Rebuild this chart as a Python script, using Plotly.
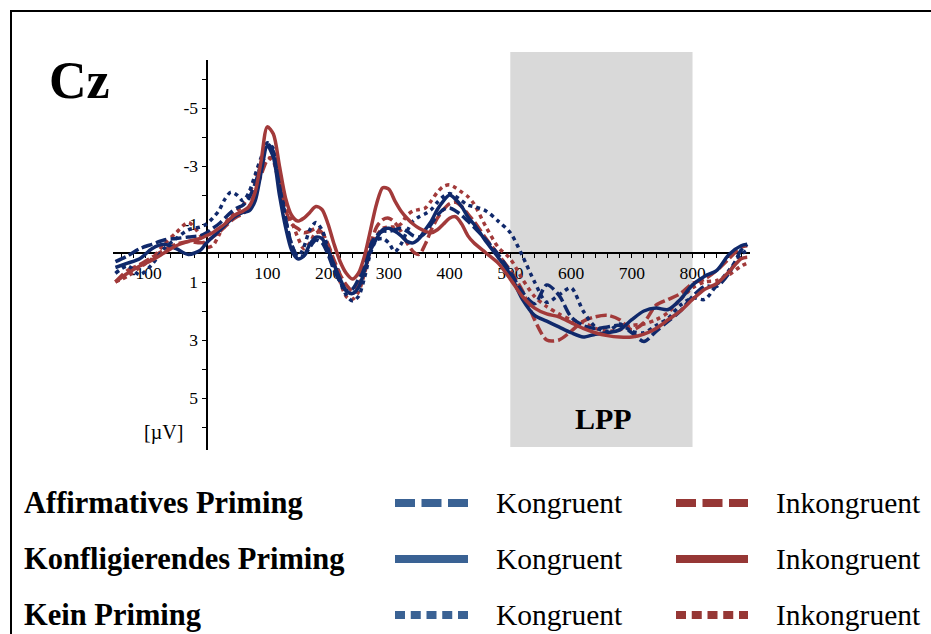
import plotly.graph_objects as go

# ---------------- data ----------------
time_ms = [-150, -130, -110, -90, -70, -50, -30, -10,
           0, 10, 20, 30, 40, 50, 60, 70, 80, 90,
           100, 110, 120, 130, 140, 150, 160, 170, 180, 190,
           200, 210, 220, 230, 240, 250, 260, 270, 280, 290,
           300, 310, 320, 330, 340, 350, 360, 370, 380, 390,
           400, 410, 420, 430, 440,
           460, 480, 500, 520, 540, 560, 580, 600, 620, 640, 660, 680, 700,
           720, 740, 760, 780, 800, 820, 840, 860, 880, 890]

# Affirmatives Priming
aff_kongruent = [0.3, 0.1, -0.15, -0.3, -0.45, -0.5, -0.55, -0.6,
                 -0.7, -0.85, -1.0, -1.2, -1.4, -1.55, -1.65, -1.9, -2.4, -3.1,
                 -3.75, -3.5, -2.4, -1.2, -0.3, 0.1, 0.1, -0.2, -0.45, -0.35,
                 0.05, 0.6, 1.0, 1.3, 1.25, 0.9, 0.3, -0.3, -0.6, -0.75,
                 -0.75, -0.8, -0.85, -0.75, -0.6, -0.55, -0.7, -1.0, -1.3, -1.5,
                 -1.55, -1.45, -1.3, -1.1, -0.9,
                 -0.45, 0.05, 0.65, 1.35, 1.75, 1.1, 1.45, 2.2, 2.5, 2.6, 2.55, 2.5, 2.75,
                 3.05, 2.7, 2.35, 2.0, 1.5, 1.15, 1.15, 0.7, -0.1, -0.3]
aff_inkongruent = [1.0, 0.6, 0.4, 0.15, -0.1, -0.3, -0.4, -0.35,
                   -0.4, -0.55, -0.7, -0.9, -1.1, -1.25, -1.35, -1.6, -2.1, -2.7,
                   -3.2, -3.3, -2.5, -1.5, -1.0, -0.85, -0.7, -0.75, -0.85, -0.7,
                   -0.3, 0.25, 0.75, 1.1, 1.3, 1.1, 0.5, -0.3, -0.9, -1.15,
                   -1.2, -1.05, -0.75, -0.35, -0.05, 0.05, -0.3, -0.8, -1.2, -1.5,
                   -1.7, -1.75, -1.6, -1.35, -1.1,
                   -0.5, 0.05, 0.6, 1.3, 2.3, 3.0, 3.0, 2.7, 2.35, 2.2, 2.15, 2.3, 2.65,
                   2.4, 1.8, 1.6, 1.4, 1.05, 0.9, 0.6, 0.2, -0.2, -0.25]

# Konfligierendes Priming
konf_kongruent = [0.5, 0.35, 0.2, -0.15, -0.3, -0.15, 0.05, -0.1,
                  -0.35, -0.55, -0.75, -0.95, -1.15, -1.3, -1.4, -1.45, -1.8, -2.8,
                  -3.7, -3.3, -2.0, -0.9, -0.1, 0.2, 0.1, -0.3, -0.55, -0.5,
                  -0.1, 0.4, 0.9, 1.3, 1.4, 1.2, 0.6, -0.1, -0.5, -0.8,
                  -0.85, -0.75, -0.6, -0.4, -0.35, -0.5, -0.8, -1.1, -1.5, -1.8,
                  -2.0, -1.85, -1.6, -1.25, -1.0,
                  -0.4, 0.15, 0.75, 1.6, 2.15, 2.35, 2.55, 2.75, 2.9, 2.8, 2.75, 2.65, 2.3,
                  2.0, 1.9, 1.95, 1.6, 1.1, 0.8, 0.6, 0.05, -0.25, -0.3]
konf_inkongruent = [1.0, 0.7, 0.45, 0.25, 0.0, -0.25, -0.4, -0.5,
                    -0.6, -0.7, -0.85, -1.0, -1.2, -1.35, -1.45, -1.6, -2.1, -3.2,
                    -4.35, -4.1, -3.0, -1.9, -1.3, -1.1, -1.2, -1.4, -1.6, -1.5,
                    -1.0, -0.3, 0.3, 0.7, 0.9, 0.7, 0.1, -0.8, -1.7, -2.25,
                    -2.2, -1.8, -1.45, -1.2, -1.0, -0.85, -0.75, -0.7, -0.8, -1.0,
                    -1.2, -1.25, -1.0, -0.6, -0.35,
                    0.0, 0.35, 0.9, 1.5, 1.9, 2.1, 2.2, 2.4, 2.6, 2.75, 2.85, 2.9, 2.9,
                    2.8, 2.6, 2.3, 2.0, 1.6, 1.25, 1.05, 0.65, 0.2, 0.15]

# Kein Priming
kein_kongruent = [0.7, 0.45, 0.75, 0.4, -0.15, -0.5, -0.8, -0.9,
                  -1.0, -1.2, -1.45, -1.85, -2.1, -2.0, -1.8, -2.1, -2.7, -3.3,
                  -3.8, -3.6, -2.6, -1.2, -0.3, 0.15, -0.2, -0.8, -1.05, -0.8,
                  -0.15, 0.5, 1.0, 1.45, 1.65, 1.5, 0.85, 0.0, -0.45, -0.5,
                  -0.35, -0.05, -0.3, -0.75, -1.1, -1.25, -1.35, -1.5, -1.75, -1.95,
                  -2.05, -1.95, -1.8, -1.65, -1.6,
                  -1.45, -1.1, -0.7, 0.1, 1.0, 1.7, 1.45, 1.2, 2.0, 2.55, 2.7, 2.45, 2.7,
                  2.75, 2.5, 2.25, 1.8, 1.55, 1.6, 1.1, 0.6, 0.05, -0.1]
kein_inkongruent = [1.0, 0.8, 0.5, 0.2, -0.3, -0.7, -1.05, -0.6,
                    -0.2, -0.25, -0.6, -1.0, -1.25, -1.45, -1.65, -2.0, -2.6, -3.15,
                    -3.3, -3.15, -2.3, -1.7, -1.1, -0.55, -0.15, -0.35, -0.7, -0.7,
                    -0.25, 0.35, 1.0, 1.5, 1.6, 1.35, 0.7, -0.1, -0.6, -0.85,
                    -0.9, -0.9, -1.0, -1.3, -1.45, -1.5, -1.55, -1.8, -2.1, -2.3,
                    -2.35, -2.25, -2.1, -1.95, -1.7,
                    -0.9, -0.2, 0.2, 0.9, 1.5, 1.85, 2.1, 2.3, 2.4, 2.6, 2.7, 2.65, 2.5,
                    2.45, 2.3, 2.05, 1.6, 1.2, 1.0, 0.95, 0.75, 0.45, 0.35]

x_tick_vals = [-100, 100, 200, 300, 400, 500, 600, 700, 800]
x_tick_text = ["-100", "100", "200", "300", "400", "500", "600", "700", "800"]
y_tick_vals = [-5, -3, -1, 1, 3, 5]
y_tick_text = ["-5", "-3", "-1", "1", "3", "5"]
lpp_window = [500, 800]

row_labels = ["Affirmatives Priming", "Konfligierendes Priming", "Kein Priming"]
cond_labels = ["Kongruent", "Inkongruent"]

# ---------------- styling / layout ----------------
W, H = 931, 634
L, R, T, B = 113, 750, 60, 450
PW, PH = R - L, B - T
X_RANGE = [-154.0, 894.6]
Y_RANGE = [6.793, -6.655]   # reversed: negative up

BLUE = "#10296b"
RED = "#a23a3a"
LEG_BLUE = "#3a6294"
LEG_RED = "#963735"
SERIF = "Liberation Serif, Times New Roman, serif"

DASH = "11px,4px"
DOT = "4px,4px"


def px(xp, yp):
    """pixel -> paper coordinates"""
    return (xp - L) / PW, 1 - (yp - T) / PH


fig = go.Figure()

series = [
    (aff_inkongruent, RED, DASH, "Affirmatives Priming – Inkongruent"),
    (kein_inkongruent, RED, DOT, "Kein Priming – Inkongruent"),
    (aff_kongruent, BLUE, DASH, "Affirmatives Priming – Kongruent"),
    (kein_kongruent, BLUE, DOT, "Kein Priming – Kongruent"),
    (konf_kongruent, BLUE, "solid", "Konfligierendes Priming – Kongruent"),
    (konf_inkongruent, RED, "solid", "Konfligierendes Priming – Inkongruent"),
]
for vals, col, dash, name in series:
    fig.add_trace(go.Scatter(
        x=time_ms, y=vals, mode="lines", name=name,
        line=dict(color=col, width=3.5, dash=dash, shape="spline", smoothing=0.8),
        showlegend=False, hoverinfo="skip"))

yzero_frac = (0 - Y_RANGE[0]) / (Y_RANGE[1] - Y_RANGE[0])
xzero_frac = (0 - X_RANGE[0]) / (X_RANGE[1] - X_RANGE[0])

shapes = []
# LPP window (gray)
gx0 = (lpp_window[0] - X_RANGE[0]) / (X_RANGE[1] - X_RANGE[0])
gx1 = (lpp_window[1] - X_RANGE[0]) / (X_RANGE[1] - X_RANGE[0])
_, gy1 = px(0, 52)
_, gy0 = px(0, 447)
shapes.append(dict(type="rect", xref="paper", yref="paper", x0=gx0, x1=gx1,
                   y0=gy0, y1=gy1, fillcolor="#d9d9d9", line=dict(width=0),
                   layer="below"))
# outer frame
fx0, fy0 = px(11, 11)
fx1, fy1 = px(1000, 700)
shapes.append(dict(type="rect", xref="paper", yref="paper", x0=fx0, x1=fx1,
                   y0=fy1, y1=fy0, line=dict(color="black", width=2),
                   fillcolor="rgba(0,0,0,0)"))

# legend samples
row_y = [503, 559, 615]
dashes_leg = ["20px,6.5px", "solid", "10px,5.75px"]
for ry, dsh in zip(row_y, dashes_leg):
    for (x0, x1, col) in [(395, 468, LEG_BLUE), (676, 748, LEG_RED)]:
        a0, b0 = px(x0, ry)
        a1, _ = px(x1, ry)
        shapes.append(dict(type="line", xref="paper", yref="paper",
                           x0=a0, x1=a1, y0=b0, y1=b0,
                           line=dict(color=col, width=8, dash=dsh)))

annotations = []


def add_text(txt, xp, yp, size, bold=False, xanchor="left"):
    a, b = px(xp, yp)
    annotations.append(dict(
        text=f"<b>{txt}</b>" if bold else txt, xref="paper", yref="paper",
        x=a, y=b, xanchor=xanchor, yanchor="middle", showarrow=False,
        font=dict(family=SERIF, size=size, color="black")))


add_text("Cz", 47, 80, 52, bold=True)
add_text("LPP", 603, 418, 30, bold=True, xanchor="center")
add_text("[µV]", 163, 432, 20, xanchor="center")
for ry, lab in zip(row_y, row_labels):
    add_text(lab, 22, ry, 30.5, bold=True)
    add_text(cond_labels[0], 494, ry, 29.5)
    add_text(cond_labels[1], 774, ry, 29.5)

fig.update_layout(
    width=W, height=H,
    margin=dict(l=L, r=W - R, t=T, b=H - B, pad=0),
    paper_bgcolor="white", plot_bgcolor="white",
    showlegend=False,
    shapes=shapes, annotations=annotations,
    xaxis=dict(range=X_RANGE, anchor="free", position=yzero_frac,
               showline=True, linecolor="black", linewidth=2,
               showgrid=False, zeroline=False,
               tickmode="array", tickvals=x_tick_vals, ticktext=x_tick_text,
               ticks="outside", ticklen=4, tickcolor="black", tickwidth=1,
               minor=dict(dtick=20, tick0=0, ticks="outside", ticklen=4,
                          tickcolor="black", tickwidth=1, showgrid=False),
               tickfont=dict(family=SERIF, size=17.5, color="black"),
               layer="below traces", fixedrange=True),
    yaxis=dict(range=Y_RANGE, anchor="free", position=xzero_frac,
               showline=True, linecolor="black", linewidth=2,
               showgrid=False, zeroline=False,
               tickmode="array", tickvals=y_tick_vals, ticktext=y_tick_text,
               ticks="outside", ticklen=4, tickcolor="black", tickwidth=1,
               minor=dict(dtick=1, tick0=0, ticks="outside", ticklen=4,
                          tickcolor="black", tickwidth=1, showgrid=False),
               tickfont=dict(family=SERIF, size=17.5, color="black"),
               layer="below traces", fixedrange=True),
)

fig.write_html("out.html")
